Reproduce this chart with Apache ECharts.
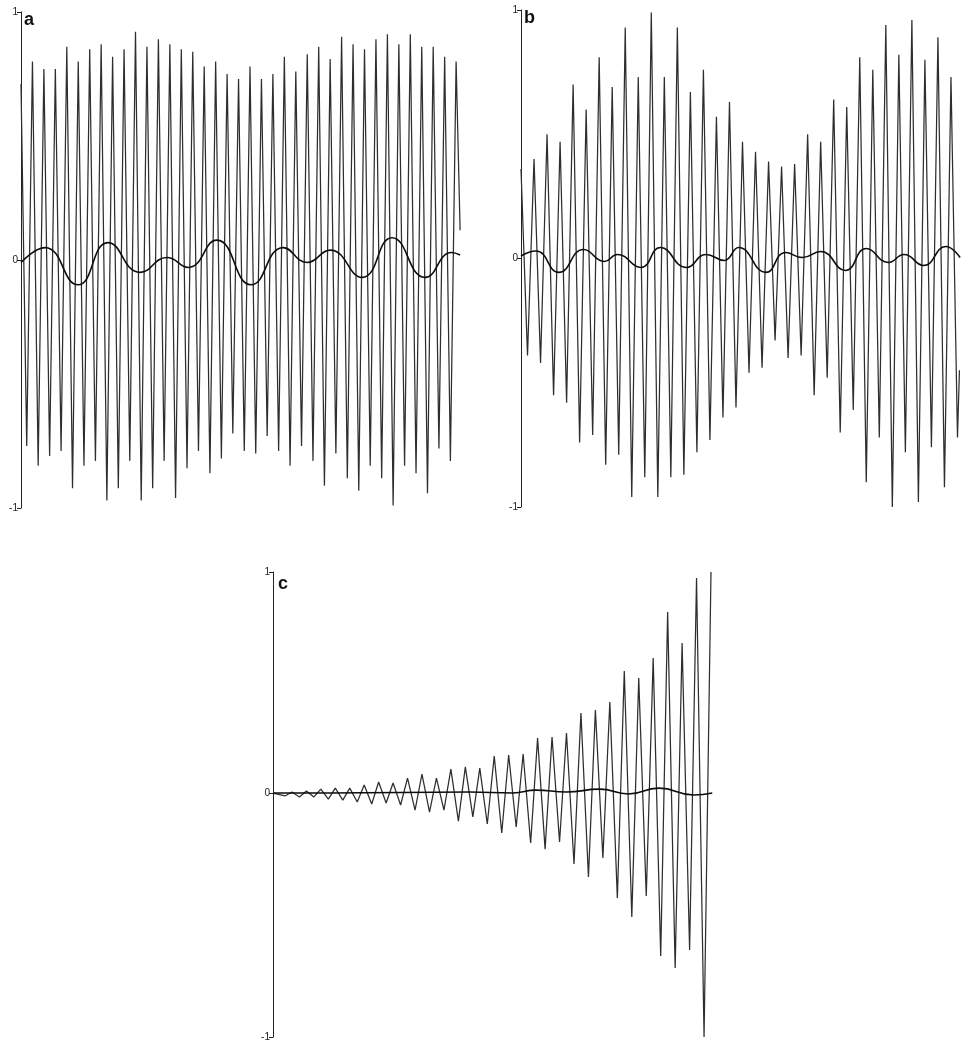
<!DOCTYPE html>
<html>
<head>
<meta charset="utf-8">
<script src="https://cdn.jsdelivr.net/npm/echarts@6/dist/echarts.min.js"></script>
<style>
html,body{margin:0;padding:0;background:#fff;}
#chart{width:963px;height:1048px;}
</style>
</head>
<body>
<div id="chart"></div>
<script>
// ---- Panel a: fast oscillation extrema (one peak per cycle, trough half a cycle before each peak)
const aHigh = [0.71,0.80,0.77,0.77,0.86,0.80,0.85,0.87,0.82,0.85,
               0.92,0.86,0.89,0.87,0.85,0.84,0.78,0.80,0.75,0.73,
               0.78,0.73,0.75,0.82,0.76,0.83,0.86,0.81,0.90,0.87,
               0.85,0.89,0.91,0.87,0.91,0.86,0.86,0.82,0.80];
const aLow  = [-0.75,-0.83,-0.79,-0.77,-0.92,-0.83,-0.81,-0.97,-0.92,-0.81,
               -0.97,-0.92,-0.81,-0.96,-0.84,-0.77,-0.86,-0.80,-0.70,-0.77,
               -0.78,-0.71,-0.77,-0.83,-0.75,-0.81,-0.91,-0.78,-0.88,-0.93,
               -0.83,-0.88,-0.99,-0.83,-0.86,-0.94,-0.76,-0.81];
const aEnd = [38.35, 0.12];
// slow component (extrema), time in cycles of the fast oscillation
const aSlowT = [0, 2.1, 4.98, 7.6, 10.4, 12.75, 14.6, 17.1, 20.1, 22.9, 24.98, 27.0, 29.8, 32.4, 35.3, 37.6, 38.35];
const aSlowV = [-0.01, 0.05, -0.10, 0.07, -0.05, 0.01, -0.03, 0.08, -0.10, 0.05, -0.01, 0.04, -0.07, 0.09, -0.07, 0.03, 0.02];

// ---- Panel b (trough half a cycle after each peak)
const bHigh = [0.36,0.40,0.50,0.47,0.70,0.60,0.81,0.69,0.93,0.73,
               0.99,0.73,0.93,0.67,0.76,0.57,0.63,0.47,0.43,0.39,
               0.37,0.38,0.50,0.47,0.64,0.61,0.81,0.76,0.94,0.82,
               0.96,0.80,0.89,0.73];
const bLow  = [-0.39,-0.42,-0.55,-0.58,-0.74,-0.71,-0.83,-0.79,-0.96,-0.88,
               -0.96,-0.88,-0.87,-0.78,-0.73,-0.64,-0.60,-0.46,-0.44,-0.33,
               -0.40,-0.39,-0.55,-0.48,-0.70,-0.61,-0.90,-0.72,-1.00,-0.78,
               -0.98,-0.76,-0.92,-0.72];
const bEnd = [33.65, -0.45];
const bSlowT = [0, 1.15, 2.9, 4.8, 6.4, 7.4, 9.2, 10.7, 12.7, 14.2, 15.6, 16.7, 18.8, 20.3, 21.6, 23.0, 24.9, 26.5, 28.2, 29.4, 30.9, 32.6, 33.7];
const bSlowV = [0.01, 0.03, -0.056, 0.036, -0.012, 0.016, -0.036, 0.044, -0.036, 0.016, -0.008, 0.044, -0.056, 0.024, 0.004, 0.028, -0.048, 0.04, -0.016, 0.016, -0.028, 0.048, 0.004];

// ---- Panel c (growing oscillation)
const cStart = [0, 0];
const cHigh = [0.004,0.008,0.016,0.020,0.020,0.033,0.045,0.041,0.061,0.078,
               0.061,0.098,0.107,0.102,0.152,0.156,0.160,0.225,0.230,0.246,
               0.328,0.340,0.373,0.500,0.471,0.553,0.742,0.615,0.881,0.906];
const cLow  = [-0.012,-0.016,-0.016,-0.025,-0.029,-0.037,-0.045,-0.041,-0.049,-0.070,
               -0.078,-0.070,-0.115,-0.098,-0.127,-0.164,-0.139,-0.205,-0.230,-0.201,
               -0.291,-0.344,-0.266,-0.430,-0.508,-0.422,-0.668,-0.717,-0.643,-1.000];
const cSlowT = [0, 3.9, 13.6, 16.6, 18.2, 20.3, 22.6, 24.6, 26.7, 29.1, 30.4];
const cSlowV = [0, 0, 0.004, 0, 0.012, 0.004, 0.016, -0.004, 0.020, -0.008, 0];

// axis extents and tick labels (panel c's upper mark sits a little below +1 on the scan)
const yMax = [1, 1, 0.906];
const yTickText = ['-1', '0', '1'];
const panelLabels = ['a', 'b', 'c'];

function seqA() {
  const d = [[0, aHigh[0]]];
  for (let j = 1; j < aHigh.length; j++) {
    d.push([j - 0.5, aLow[j - 1]]);
    d.push([j, aHigh[j]]);
  }
  d.push(aEnd);
  return d;
}
function seqB() {
  const d = [];
  for (let i = 0; i < bHigh.length; i++) {
    d.push([i, bHigh[i]]);
    d.push([i + 0.5, bLow[i]]);
  }
  d.push(bEnd);
  return d;
}
function seqC() {
  const d = [cStart];
  for (let k = 0; k < cHigh.length; k++) {
    d.push([k + 0.83, cLow[k]]);
    d.push([k + 1.31, cHigh[k]]);
  }
  return d;
}
const zip = (t, v) => t.map((x, i) => [x, v[i]]);

const grids = [
  {left: 21, top: 12, width: 439, height: 496},
  {left: 521, top: 10, width: 440, height: 497},
  {left: 273, top: 572, width: 439, height: 465}
];
const xMax = [38.34, 33.77, 30.38];

const chart = echarts.init(document.getElementById('chart'), null, {renderer: 'canvas'});
const fast = {color: '#2e2e2e', width: 1.25};
const slow = {color: '#0d0d0d', width: 1.6};

chart.setOption({
  animation: false,
  backgroundColor: '#fff',
  grid: grids,
  xAxis: grids.map((g, i) => ({gridIndex: i, type: 'value', min: 0, max: xMax[i], show: false})),
  yAxis: grids.map((g, i) => {
    const tv = [-1, 0, yMax[i]];
    return {
      gridIndex: i, type: 'value', min: -1, max: yMax[i],
      axisLine: {show: true, onZero: false, lineStyle: {color: '#222', width: 1}},
      axisTick: {show: true, length: 4, customValues: tv, lineStyle: {color: '#222', width: 1}},
      splitLine: {show: false},
      axisLabel: {
        fontSize: 10, margin: 3, color: '#222', fontFamily: 'Liberation Sans',
        customValues: tv,
        formatter: v => yTickText[tv.indexOf(v)]
      }
    };
  }),
  graphic: [
    {type: 'text', left: 24, top: 11, style: {text: panelLabels[0], font: 'bold 18px Liberation Sans', fill: '#111'}},
    {type: 'text', left: 524, top: 9, style: {text: panelLabels[1], font: 'bold 18px Liberation Sans', fill: '#111'}},
    {type: 'text', left: 278, top: 575, style: {text: panelLabels[2], font: 'bold 18px Liberation Sans', fill: '#111'}}
  ],
  series: [
    {type: 'line', xAxisIndex: 0, yAxisIndex: 0, data: seqA(), showSymbol: false, lineStyle: fast, z: 2},
    {type: 'line', xAxisIndex: 0, yAxisIndex: 0, data: zip(aSlowT, aSlowV), smooth: 0.5, showSymbol: false, lineStyle: slow, z: 3},
    {type: 'line', xAxisIndex: 1, yAxisIndex: 1, data: seqB(), showSymbol: false, lineStyle: fast, z: 2},
    {type: 'line', xAxisIndex: 1, yAxisIndex: 1, data: zip(bSlowT, bSlowV), smooth: 0.5, showSymbol: false, lineStyle: slow, z: 3},
    {type: 'line', xAxisIndex: 2, yAxisIndex: 2, data: seqC(), showSymbol: false, lineStyle: fast, z: 2},
    {type: 'line', xAxisIndex: 2, yAxisIndex: 2, data: zip(cSlowT, cSlowV), smooth: 0.5, showSymbol: false, lineStyle: slow, z: 3}
  ]
});
</script>
</body>
</html>
